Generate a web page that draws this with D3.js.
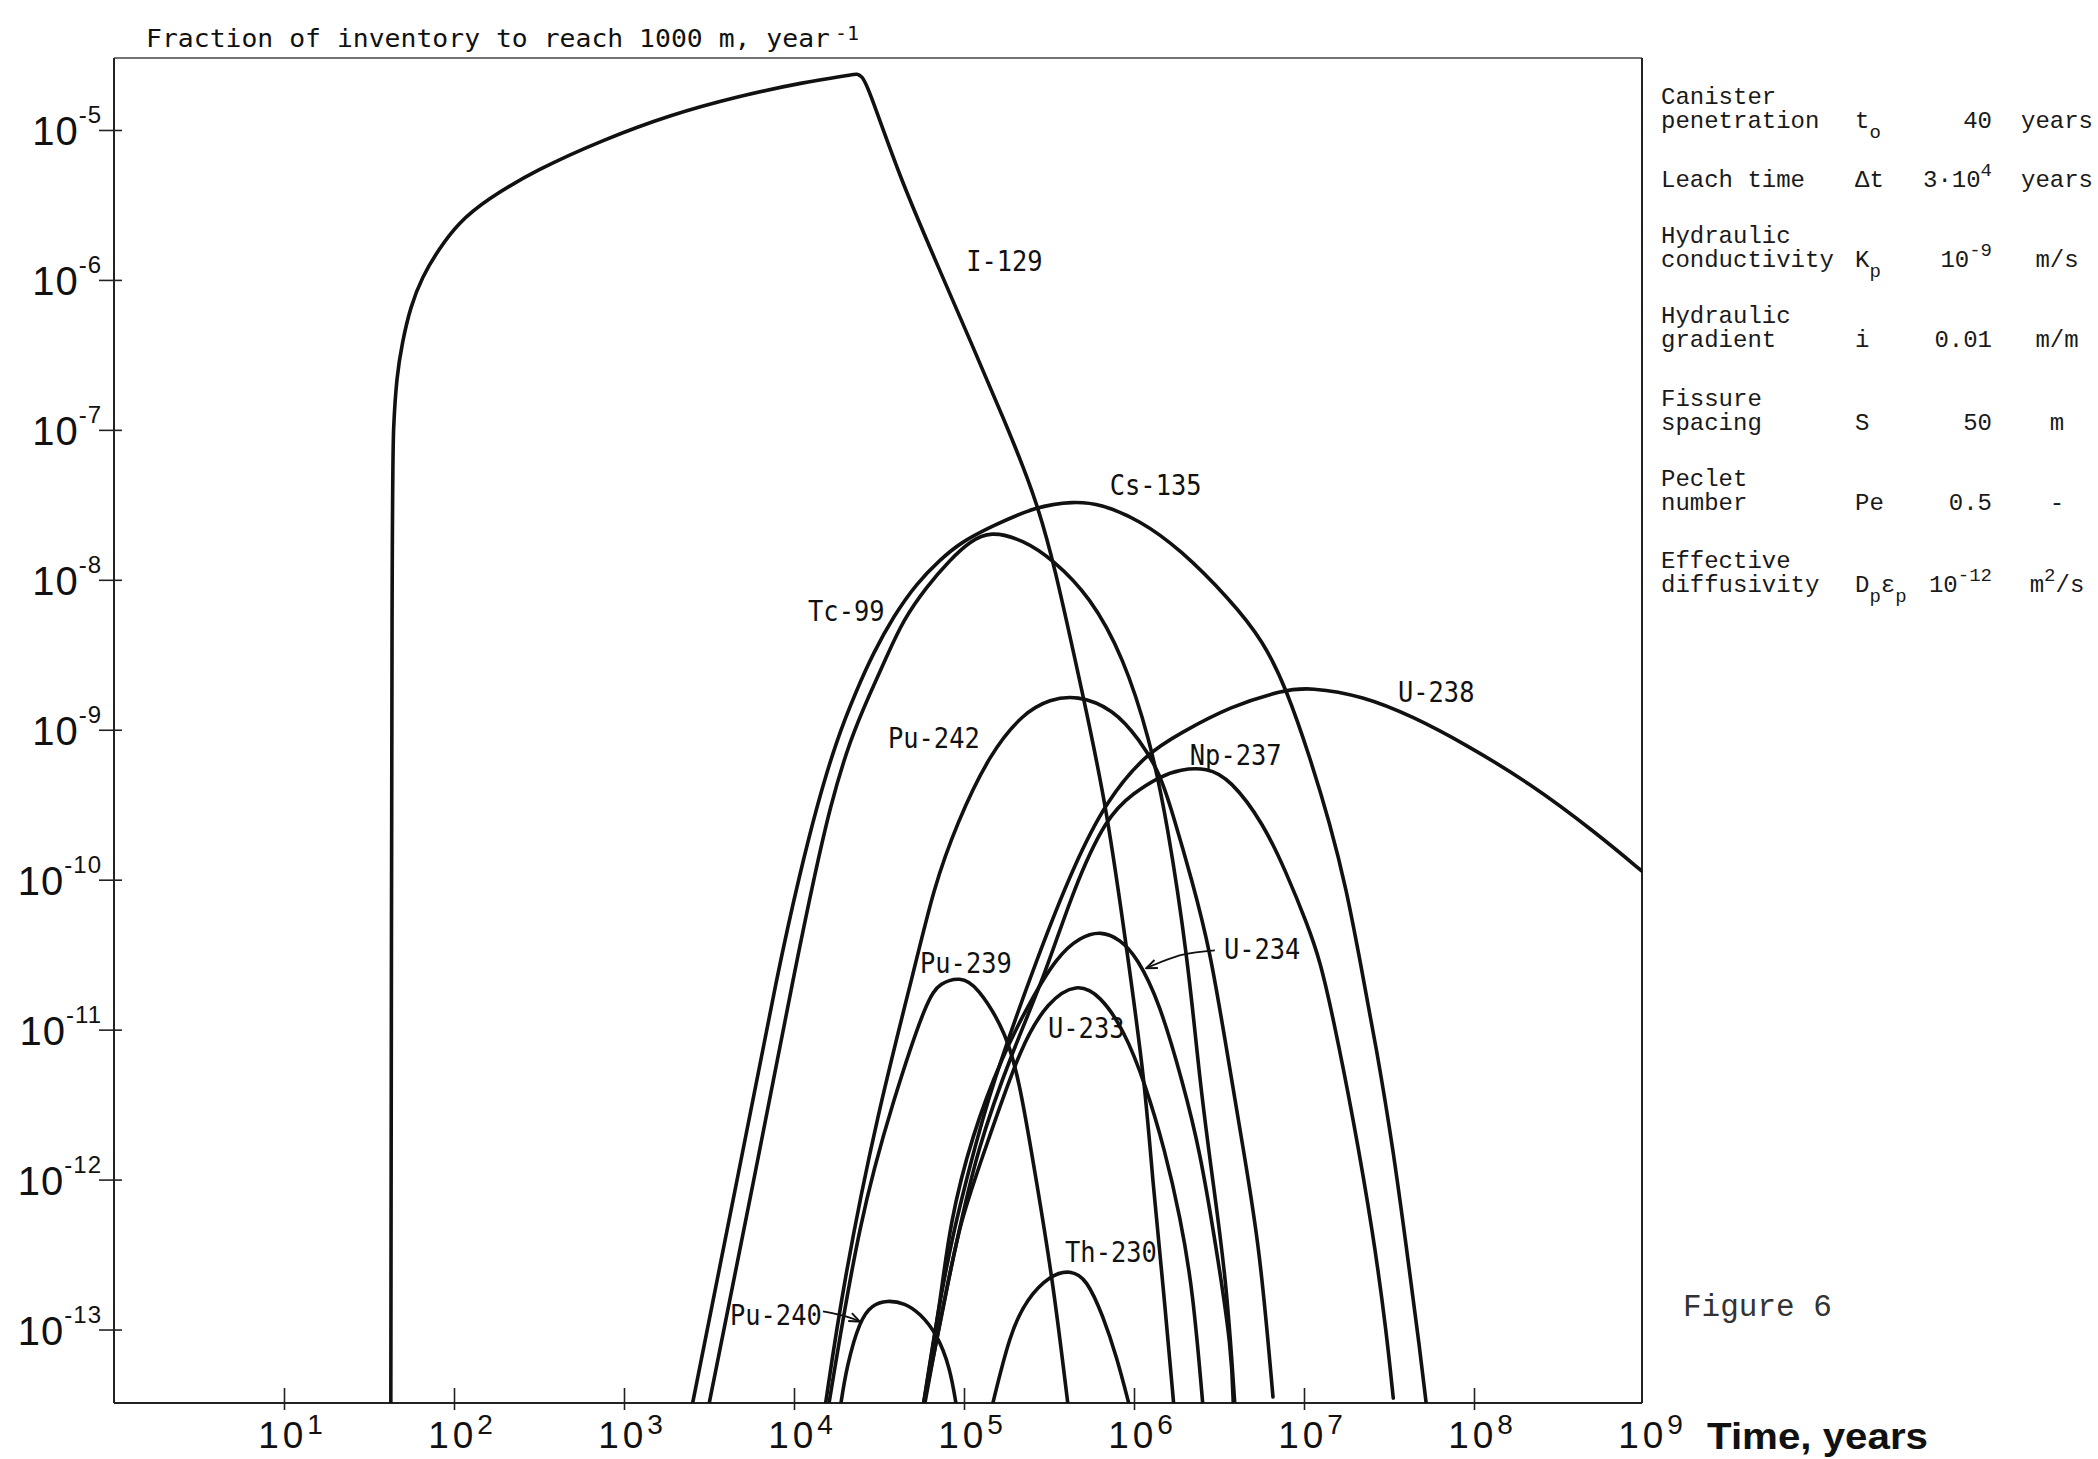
<!DOCTYPE html>
<html>
<head>
<meta charset="utf-8">
<script src="https://cdn.jsdelivr.net/npm/d3@7"></script>
<style>
  body { margin: 0; background: #fff; }
  .tick-label { font-family: "Liberation Sans", Arial, sans-serif; fill: #111; }
  .curve-label { font-family: "DejaVu Sans Mono", monospace; font-size: 28px; fill: #111; }
  .panel { font-family: "Liberation Mono", "Courier New", monospace; font-size: 24px; fill: #1a1a1a; }
</style>
</head>
<body>
<div id="chart"></div>
<script>
// Tick values
var xTicks = [1e1, 1e2, 1e3, 1e4, 1e5, 1e6, 1e7, 1e8, 1e9];
var yTicks = [1e-5, 1e-6, 1e-7, 1e-8, 1e-9, 1e-10, 1e-11, 1e-12, 1e-13];

// Curves: [time in years, fraction per year]
var I129 = [[42.5, 3e-14], [43.2, 4.6e-8], [44, 1.05e-7], [46, 2.27e-7], [49.5, 3.79e-7], [55.5, 6.65e-7],
  [65, 1.05e-6], [81, 1.59e-6], [106, 2.4e-6], [155, 3.43e-6], [306, 5.43e-6], [755, 8.61e-6],
  [1865, 1.26e-5], [4600, 1.67e-5], [11350, 2.08e-5], [22300, 2.34e-5], [23380, 2.37e-5],
  [25000, 2.28e-5], [26800, 2.06e-5], [42000, 4.8e-6], [66700, 1.41e-6], [195000, 8.59e-8],
  [268000, 3.25e-8], [335000, 1.36e-8], [503000, 1.66e-9], [690000, 3.08e-10], [925000, 2.92e-11],
  [1.16e6, 4.41e-12], [1.29e6, 9.48e-13], [1.48e6, 2.04e-13], [1.72e6, 3e-14]];

var Cs135 = [[2500, 3e-14], [4600, 9.5e-13], [8280, 2.92e-11], [10840, 1.1e-10], [13600, 3.08e-10],
  [17800, 8.57e-10], [23380, 1.85e-9], [29250, 3.24e-9], [38400, 5.69e-9], [52700, 9.5e-9],
  [72300, 1.36e-8], [94700, 1.76e-8], [142200, 2.25e-8], [268000, 3.1e-8], [440000, 3.33e-8],
  [631000, 3.22e-8], [1.08e6, 2.5e-8], [1.87e6, 1.6e-8], [3.67e6, 7.4e-9], [5.77e6, 3.9e-9],
  [7.91e6, 1.85e-9], [1.08e7, 6.62e-10], [1.42e7, 2.38e-10], [1.78e7, 8.55e-11], [2.13e7, 2.92e-11],
  [2.68e7, 7.33e-12], [3.35e7, 1.58e-12], [4.02e7, 3.4e-13], [4.81e7, 7.3e-14], [5.27e7, 3e-14]];

var Tc99 = [[3130, 3e-14], [5770, 9.5e-13], [10380, 2.92e-11], [13300, 1.1e-10], [16300, 3.08e-10],
  [21350, 8.57e-10], [28000, 1.75e-9], [35100, 3.08e-9], [43950, 5.41e-9], [60400, 9.02e-9],
  [82700, 1.36e-8], [108400, 1.8e-8], [142200, 2.12e-8], [223000, 1.85e-8], [335000, 1.36e-8],
  [551000, 7.74e-9], [865000, 3.08e-9], [1.24e6, 8.57e-10], [1.56e6, 2.51e-10], [2.08e6, 2.92e-11],
  [2.44e6, 4.41e-12], [2.92e6, 9.5e-13], [3.51e6, 2.04e-13], [3.93e6, 3e-14]];

var Pu242 = [[15200, 3e-14], [19500, 2.03e-13], [30600, 2.63e-12], [52700, 2.92e-11], [65900, 8.55e-11],
  [90600, 2.38e-10], [142200, 6.98e-10], [223000, 1.29e-9], [321000, 1.6e-9], [460000, 1.7e-9],
  [755000, 1.38e-9], [1.08e6, 8.57e-10], [1.42e6, 5.14e-10], [1.69e6, 2.75e-10], [2.19e6, 9.98e-11],
  [2.8e6, 3.4e-11], [3.51e6, 7.33e-12], [4.4e6, 1.58e-12], [5.51e6, 3.4e-13], [6.57e6, 3.55e-14]];

var U238 = [[57300, 3e-14], [69300, 1.21e-13], [86100, 4.4e-13], [108000, 1.21e-12], [142200, 3.96e-12],
  [280000, 3.4e-11], [440000, 1.22e-10], [690000, 3.4e-10], [1.19e6, 6.98e-10], [1.87e6, 9.48e-10],
  [3.67e6, 1.43e-9], [7.55e6, 1.84e-9], [1.08e7, 1.92e-9], [2.23e7, 1.68e-9], [4.4e7, 1.22e-9],
  [8.65e7, 8.15e-10], [2.13e8, 4.41e-10], [5.27e8, 2.04e-10], [1e9, 1.11e-10]];

var Np237 = [[58200, 3e-14], [72300, 1.16e-13], [89700, 3.66e-13], [119000, 1.58e-12], [194000, 7.33e-12],
  [300000, 2.32e-11], [438000, 8.55e-11], [690000, 2.64e-10], [991000, 3.78e-10], [1.42e6, 4.88e-10],
  [1.87e6, 5.45e-10], [2.68e6, 5.6e-10], [3.67e6, 4.7e-10], [5.77e6, 2.38e-10], [7.91e6, 1.1e-10],
  [1.04e7, 5.13e-11], [1.24e7, 2.92e-11], [1.48e7, 1.22e-11], [1.94e7, 2.63e-12], [2.55e7, 4.4e-13],
  [3.06e7, 9.48e-14], [3.35e7, 3.49e-14]];

var U234 = [[57300, 3e-14], [72900, 1.57e-13], [82200, 4.98e-13], [111000, 1.96e-12], [169000, 6.78e-12],
  [244000, 1.53e-11], [351000, 3.05e-11], [481000, 4.15e-11], [643000, 4.55e-11], [827000, 4.0e-11],
  [1.04e6, 3.05e-11], [1.41e6, 1.53e-11], [1.94e6, 4.41e-12], [2.44e6, 1.57e-12], [3.06e6, 3.4e-13],
  [3.76e6, 7.3e-14], [3.84e6, 3e-14]];

var U233 = [[57300, 3e-14], [77300, 1.57e-13], [92900, 4.98e-13], [142000, 1.96e-12], [216000, 7.79e-12],
  [312000, 1.55e-11], [461000, 2.05e-11], [631000, 1.7e-11], [873000, 9.95e-12], [1.16e6, 4.41e-12],
  [1.52e6, 1.57e-12], [1.87e6, 5.62e-13], [2.22e6, 1.84e-13], [2.55e6, 3e-14]];

var Pu239 = [[15900, 3e-14], [24400, 5.65e-13], [38400, 3.4e-12], [60400, 1.6e-11], [72300, 2.05e-11],
  [94700, 2.25e-11], [119000, 1.98e-11], [178000, 9.46e-12], [213000, 4.41e-12], [268000, 9.5e-13],
  [335000, 2.03e-13], [411000, 3e-14]];

var Pu240 = [[18700, 3e-14], [20400, 5.69e-14], [24400, 1.16e-13], [28800, 1.46e-13], [35100, 1.57e-13],
  [45000, 1.5e-13], [55100, 1.28e-13], [69000, 9.42e-14], [82700, 5.64e-14], [90600, 3e-14]];

var Th230 = [[145500, 3e-14], [186600, 9.48e-14], [234000, 1.6e-13], [321000, 2.3e-13], [421000, 2.5e-13],
  [527000, 2.18e-13], [659000, 1.22e-13], [791000, 6.58e-14], [947000, 3e-14]];

var curves = [I129, Cs135, Tc99, Pu242, U238, Np237, U234, U233, Pu239, Pu240, Th230];

// Curve names and where their text sits (left end, baseline) in data units
var labelNames = ["I-129", "Cs-135", "Tc-99", "Pu-242", "U-238", "Np-237", "U-234", "Pu-239", "U-233", "Th-230", "Pu-240"];
var labelTimes = [1.03e5, 7.2e5, 1.21e4, 3.57e4, 3.57e7, 2.13e6, 3.38e6, 5.51e4, 3.12e5, 3.93e5, 4.2e3];
var labelValues = [1.15e-6, 3.7e-8, 5.3e-9, 7.5e-10, 1.52e-9, 5.85e-10, 2.96e-11, 2.39e-11, 8.8e-12, 2.82e-13, 1.07e-13];

// Pointer arrows from labels to curves
var arrowU234 = [[2.99e6, 3.38e-11], [1.91e6, 3.15e-11], [1.18e6, 2.57e-11]];
var arrowPu240 = [[1.48e4, 1.32e-13], [2.04e4, 1.22e-13], [2.44e4, 1.13e-13]];

// Parameter table on the right
var paramNames = [["Canister", "penetration"], ["Leach time"], ["Hydraulic", "conductivity"],
  ["Hydraulic", "gradient"], ["Fissure", "spacing"], ["Peclet", "number"], ["Effective", "diffusivity"]];
var paramSymbols = [[["t"], ["o", "sub"]], [["Δt"]], [["K"], ["p", "sub"]], [["i"]], [["S"]], [["Pe"]],
  [["D"], ["p", "sub"], ["ε"], ["p", "sub"]]];
var paramValues = [[["40"]], [["3·10"], ["4", "sup"]], [["10"], ["-9", "sup"]], [["0.01"]], [["50"]], [["0.5"]],
  [["10"], ["-12", "sup"]]];
var paramUnits = [[["years"]], [["years"]], [["m/s"]], [["m/m"]], [["m"]], [["-"]], [["m"], ["2", "sup"], ["/s"]]];

// Set up SVG
var svgWidth = 2098;
var svgHeight = 1459;

var svg = d3.select("#chart").append("svg").attr("width", svgWidth).attr("height", svgHeight);

var plotLeft = 114, plotRight = 1642, plotTop = 58, plotBottom = 1403;

var x = d3.scaleLog().domain([1, 1e9]).range([plotLeft, 1644]);
var y = d3.scaleLog().domain([Math.pow(10, -13.49), Math.pow(10, -4.52)]).range([plotBottom, plotTop]);

// writes text runs with sub/superscripts as tspans
function richText(sel, parts, small, shift) {
    var cur = 0;
    parts.forEach(function(p) {
        var target = p[1] === "sup" ? -shift : (p[1] === "sub" ? shift : 0);
        var ts = sel.append("tspan").attr("dy", target - cur).text(p[0]);
        if (p[1]) ts.attr("font-size", small);
        cur = target;
    });
}

svg.append("defs").append("clipPath").attr("id", "plot-clip")
    .append("rect")
    .attr("x", plotLeft).attr("y", plotTop)
    .attr("width", plotRight - plotLeft).attr("height", plotBottom - plotTop);

var marker = svg.select("defs").append("marker")
    .attr("id", "arrow")
    .attr("viewBox", "0 0 12 10")
    .attr("refX", 11).attr("refY", 5)
    .attr("markerWidth", 13).attr("markerHeight", 11)
    .attr("markerUnits", "userSpaceOnUse")
    .attr("orient", "auto");
marker.append("path").attr("d", "M1,1 L11,5 L1,9")
    .attr("fill", "none").attr("stroke", "#111").attr("stroke-width", 1.8);

// Frame
var frame = svg.append("g").attr("stroke", "#222").attr("fill", "none");
frame.append("line").attr("x1", plotLeft).attr("x2", plotRight).attr("y1", plotTop).attr("y2", plotTop)
    .attr("stroke-width", 1.5).attr("stroke", "#444");
frame.append("line").attr("x1", plotLeft).attr("x2", plotLeft).attr("y1", plotTop).attr("y2", plotBottom)
    .attr("stroke-width", 2);
frame.append("line").attr("x1", plotLeft).attr("x2", plotRight).attr("y1", plotBottom).attr("y2", plotBottom)
    .attr("stroke-width", 2);
frame.append("line").attr("x1", plotRight).attr("x2", plotRight).attr("y1", plotTop).attr("y2", plotBottom)
    .attr("stroke-width", 2);

// Y axis: ticks cross the left edge
var yAxisG = svg.append("g")
    .attr("transform", "translate(" + (plotLeft + 8) + ",0)")
    .call(d3.axisLeft(y).tickValues(yTicks).tickSize(23).tickFormat(""));
yAxisG.select(".domain").remove();
yAxisG.attr("font-size", null).attr("font-family", null);
yAxisG.selectAll(".tick line").attr("stroke", "#222").attr("stroke-width", 1.6);
yAxisG.selectAll(".tick text")
    .attr("class", "tick-label")
    .attr("x", -20).attr("y", 15).attr("dy", null)
    .attr("text-anchor", "end")
    .attr("font-size", 40)
    .each(function(d) {
        var t = d3.select(this);
        t.append("tspan").attr("letter-spacing", 1).text("10");
        t.append("tspan").attr("dy", -22).attr("font-size", 24).attr("letter-spacing", 1)
            .text(Math.round(Math.log10(d)));
    });

// X axis
var xAxisG = svg.append("g")
    .attr("transform", "translate(0," + (plotBottom - 15) + ")")
    .call(d3.axisBottom(x).tickValues(xTicks).tickSize(22).tickFormat(""));
xAxisG.select(".domain").remove();
xAxisG.attr("font-size", null).attr("font-family", null);
xAxisG.selectAll(".tick line").attr("stroke", "#222").attr("stroke-width", 1.6);
xAxisG.selectAll(".tick").filter(function(d) { return d === 1e9; }).select("line").remove();
xAxisG.selectAll(".tick text")
    .attr("class", "tick-label")
    .attr("x", 6).attr("y", 60).attr("dy", null)
    .attr("text-anchor", "middle")
    .attr("font-size", 37)
    .each(function(d) {
        var t = d3.select(this);
        t.append("tspan").attr("letter-spacing", 4).text("10");
        t.append("tspan").attr("dy", -14).attr("font-size", 28).text(Math.round(Math.log10(d)));
    });

svg.append("text")
    .attr("x", 1707).attr("y", 1449)
    .attr("font-family", "'Liberation Sans', Arial, sans-serif")
    .attr("font-weight", "bold")
    .attr("font-size", 36)
    .attr("textLength", 221).attr("lengthAdjust", "spacingAndGlyphs")
    .attr("fill", "#111")
    .text("Time, years");

// Title
svg.append("text")
    .attr("x", 146).attr("y", 47)
    .attr("font-family", "'DejaVu Sans Mono', monospace")
    .attr("font-size", 25)
    .attr("textLength", 684).attr("lengthAdjust", "spacingAndGlyphs")
    .attr("fill", "#111")
    .text("Fraction of inventory to reach 1000 m, year");
svg.append("text")
    .attr("x", 835).attr("y", 40)
    .attr("font-family", "'DejaVu Sans Mono', monospace")
    .attr("font-size", 20)
    .attr("fill", "#111")
    .text("-1");

// Curves (smooth pen-plotter look)
var line = d3.line()
    .x(d => x(d[0]))
    .y(d => y(d[1]))
    .curve(d3.curveBasis);

var chartGroup = svg.append("g").attr("clip-path", "url(#plot-clip)");

chartGroup.selectAll("path.curve")
    .data(curves)
    .enter()
    .append("path")
    .attr("class", "curve")
    .attr("d", line)
    .attr("fill", "none")
    .attr("stroke", "#111")
    .attr("stroke-width", 3.6)
    .attr("stroke-linejoin", "round")
    .attr("stroke-linecap", "round");

// Curve labels
svg.selectAll("text.curve-label")
    .data(labelNames)
    .enter()
    .append("text")
    .attr("class", "curve-label")
    .attr("x", (d, i) => x(labelTimes[i]))
    .attr("y", (d, i) => y(labelValues[i]))
    .attr("textLength", d => d.length * 15.3)
    .attr("lengthAdjust", "spacingAndGlyphs")
    .text(d => d);

var arrowLine = d3.line().x(d => x(d[0])).y(d => y(d[1])).curve(d3.curveNatural);
[arrowU234, arrowPu240].forEach(function(a) {
    svg.append("path")
        .attr("d", arrowLine(a))
        .attr("fill", "none")
        .attr("stroke", "#111")
        .attr("stroke-width", 1.8)
        .attr("marker-end", "url(#arrow)");
});

// Parameter table
var rowY = [128, 187, 267, 347, 430, 510, 592];
var panel = svg.append("g").attr("class", "panel");

paramNames.forEach(function(names, i) {
    names.forEach(function(n, j) {
        panel.append("text")
            .attr("x", 1661)
            .attr("y", rowY[i] - (names.length - 1 - j) * 24)
            .text(n);
    });
    var s = panel.append("text").attr("x", 1855).attr("y", rowY[i]);
    richText(s, paramSymbols[i], 19, 10);
    var v = panel.append("text").attr("x", 1992).attr("y", rowY[i]).attr("text-anchor", "end");
    richText(v, paramValues[i], 19, 11);
    var u = panel.append("text").attr("x", 2057).attr("y", rowY[i]).attr("text-anchor", "middle");
    richText(u, paramUnits[i], 19, 11);
});

svg.append("text")
    .attr("x", 1683).attr("y", 1316)
    .attr("font-family", "'Liberation Mono', 'Courier New', monospace")
    .attr("font-size", 31)
    .attr("fill", "#333")
    .text("Figure 6");
</script>
</body>
</html>
